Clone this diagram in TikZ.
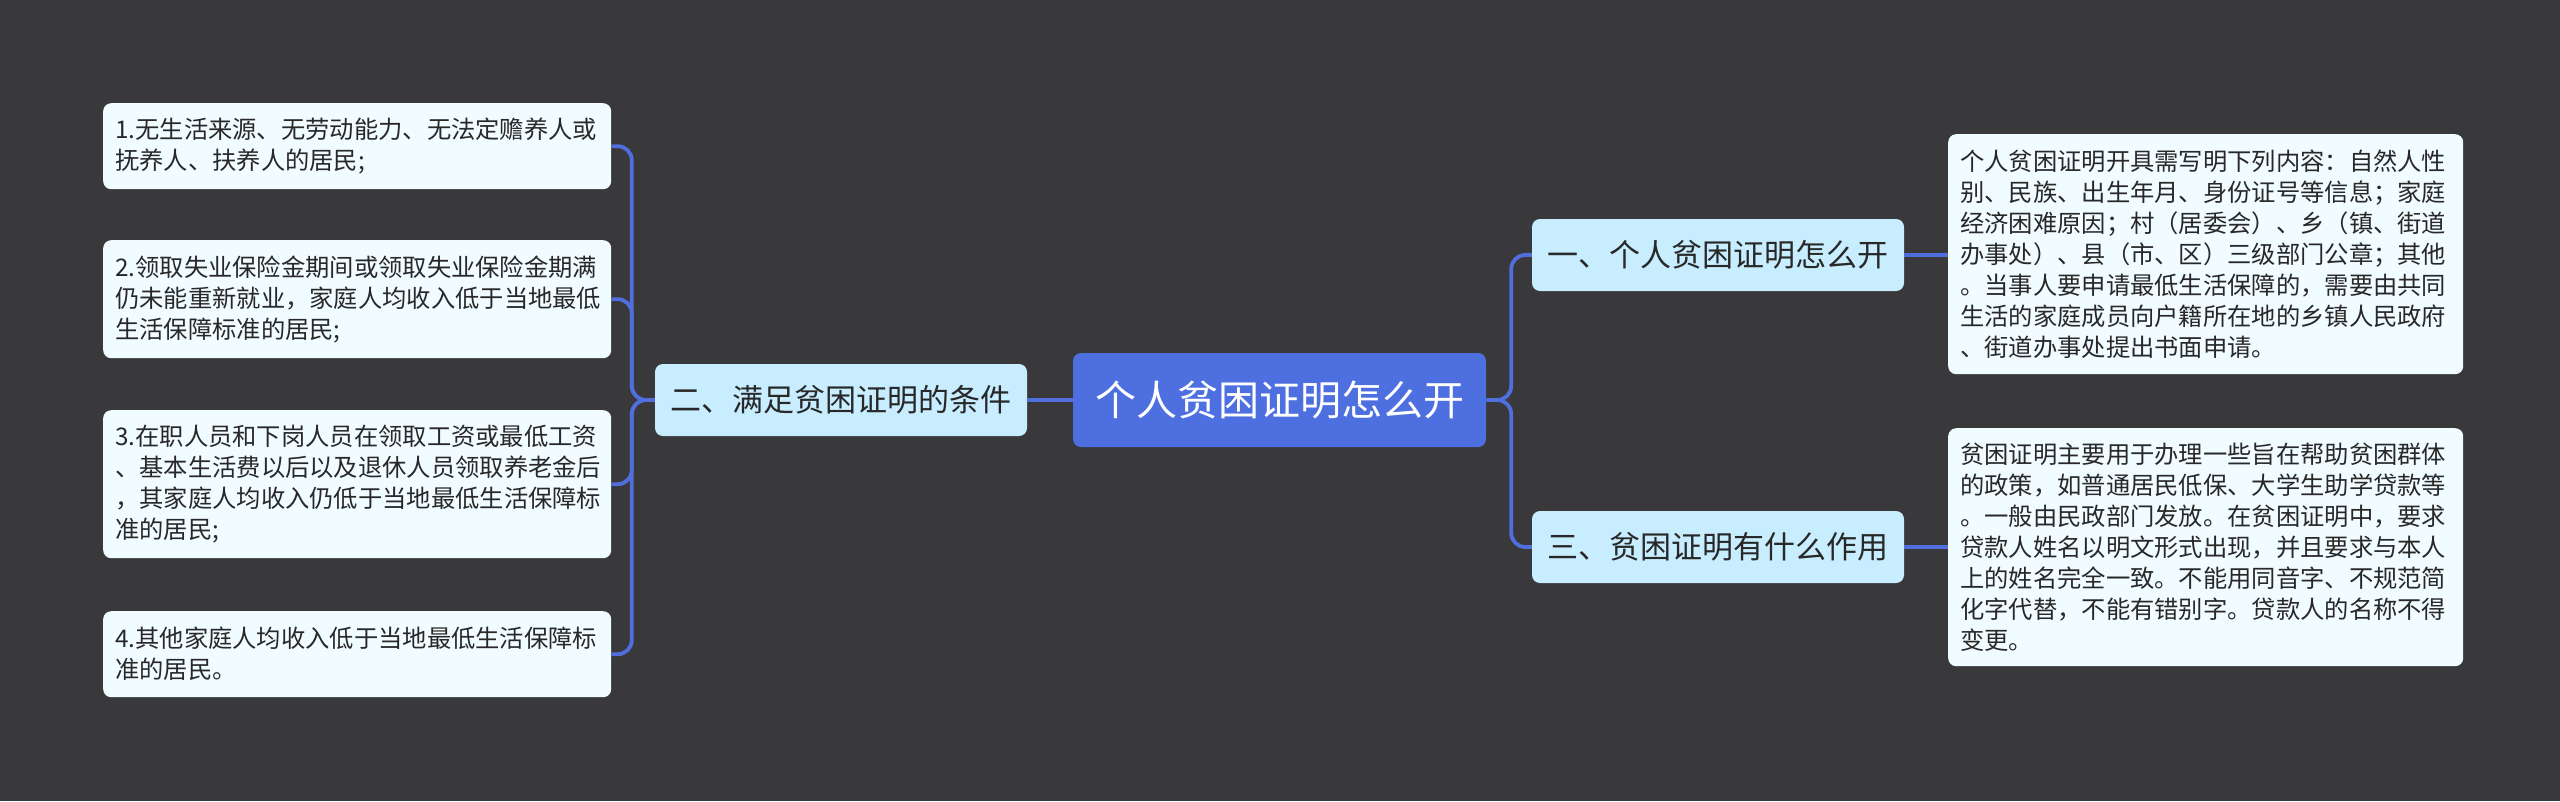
\documentclass[tikz,border=0pt]{standalone}
\usepackage{fontspec}
\newfontfamily\cjk{Noto Sans CJK SC}
\definecolor{bgcol}{RGB}{57,56,58}
\definecolor{leaffill}{RGB}{240,252,255}
\definecolor{branchfill}{RGB}{199,237,255}
\definecolor{rootfill}{RGB}{78,111,224}
\definecolor{linecol}{RGB}{80,110,222}
\definecolor{txt}{RGB}{40,40,40}
\begin{document}
\begin{tikzpicture}[x=1pt,y=-1pt,
  leafbox/.style={fill=leaffill, rounded corners=8pt, inner xsep=12pt, inner ysep=0pt,
    anchor=north west, align=left, text=txt, font=\cjk\fontsize{24.3pt}{31pt}\selectfont},
  branchbox/.style={fill=branchfill, rounded corners=8pt, inner sep=0pt, text=txt,
    minimum width=372pt, minimum height=72pt, font=\cjk\fontsize{31pt}{36pt}\selectfont},
  rootbox/.style={fill=rootfill, rounded corners=8pt, inner sep=0pt, text=white,
    minimum width=413pt, minimum height=94pt, font=\cjk\fontsize{41pt}{46pt}\selectfont},
  conn/.style={draw=linecol, line width=3.8pt, rounded corners=14pt}]
\fill[bgcol] (0,0) rectangle (2560,801);
\useasboundingbox (0,0) rectangle (2560,801);

\node[rootbox] (root) at (1279.5,400) {个人贫困证明怎么开};
\node[branchbox] (b2) at (841,400) {二、满足贫困证明的条件};
\node[branchbox] (b1) at (1718,255) {一、个人贫困证明怎么开};
\node[branchbox] (b3) at (1718,547) {三、贫困证明有什么作用};

\node[leafbox, text width=484pt, minimum height=86pt] (l1) at (103,103)
  {1.无生活来源、无劳动能力、无法定赡养人或\\抚养人、扶养人的居民;};
\node[leafbox, text width=484pt, minimum height=118pt] (l2) at (103,240)
  {2.领取失业保险金期间或领取失业保险金期满\\仍未能重新就业，家庭人均收入低于当地最低\\生活保障标准的居民;};
\node[leafbox, text width=484pt, minimum height=148pt] (l3) at (103,410)
  {3.在职人员和下岗人员在领取工资或最低工资\\、基本生活费以后以及退休人员领取养老金后\\，其家庭人均收入仍低于当地最低生活保障标\\准的居民;};
\node[leafbox, text width=484pt, minimum height=86pt] (l4) at (103,611)
  {4.其他家庭人均收入低于当地最低生活保障标\\准的居民。};

\node[leafbox, text width=491pt, minimum height=240pt] (r1) at (1948,134)
  {个人贫困证明开具需写明下列内容：自然人性\\别、民族、出生年月、身份证号等信息；家庭\\经济困难原因；村（居委会）、乡（镇、街道\\办事处）、县（市、区）三级部门公章；其他\\。当事人要申请最低生活保障的，需要由共同\\生活的家庭成员向户籍所在地的乡镇人民政府\\、街道办事处提出书面申请。};
\node[leafbox, text width=491pt, minimum height=238pt] (r2) at (1948,428)
  {贫困证明主要用于办理一些旨在帮助贫困群体\\的政策，如普通居民低保、大学生助学贷款等\\。一般由民政部门发放。在贫困证明中，要求\\贷款人姓名以明文形式出现，并且要求与本人\\上的姓名完全一致。不能用同音字、不规范简\\化字代替，不能有错别字。贷款人的名称不得\\变更。};

\draw[conn] (root.west) -- (b2.east);
\draw[conn] (b2.west) -- ++(-23,0) |- (l1.east);
\draw[conn] (b2.west) -- ++(-23,0) |- (l2.east);
\draw[conn] (b2.west) -- ++(-23,0) |- (l3.east);
\draw[conn] (b2.west) -- ++(-23,0) |- (l4.east);
\draw[conn] (root.east) -- ++(25,0) |- (b1.west);
\draw[conn] (root.east) -- ++(25,0) |- (b3.west);
\draw[conn] (b1.east) -- (r1.west |- b1.east);
\draw[conn] (b3.east) -- (r2.west |- b3.east);
\end{tikzpicture}
\end{document}
